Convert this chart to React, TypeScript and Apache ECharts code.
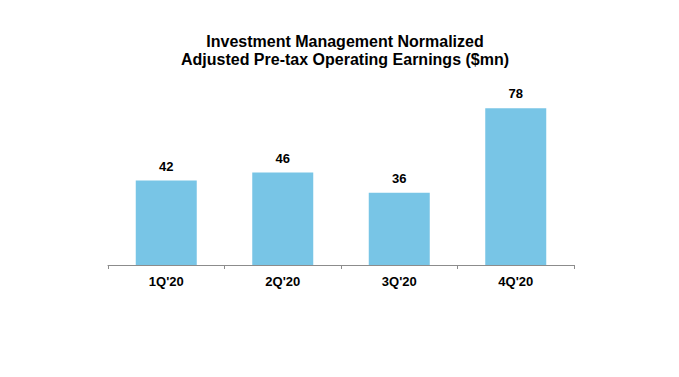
import React, { useEffect, useRef } from "react";
import * as echarts from "echarts";

const categories = ["1Q'20", "2Q'20", "3Q'20", "4Q'20"];
const values = [42, 46, 36, 78];
const titleLines = ["Investment Management Normalized", "Adjusted Pre-tax Operating Earnings ($mn)"];

export default function App() {
  const ref = useRef<HTMLDivElement>(null);
  useEffect(() => {
    if (!ref.current) return;
    const chart = echarts.init(ref.current, undefined, { renderer: "svg" });
    chart.setOption({
      animation: false,
      backgroundColor: "#ffffff",
      title: {
        text: titleLines.join("\n"),
        left: 340,
        textAlign: "center",
        top: 27,
        textStyle: {
          fontFamily: "Liberation Sans, Arial, sans-serif",
          fontWeight: "bold",
          fontSize: 16,
          lineHeight: 18,
          color: "#000",
        },
      },
      grid: { left: 108, right: 105, top: 64, bottom: 112 },
      xAxis: {
        type: "category",
        data: categories,
        axisLine: { lineStyle: { color: "#8c8c8c", width: 1 } },
        axisTick: { show: true, length: 4, lineStyle: { color: "#8c8c8c" } },
        axisLabel: {
          margin: 10,
          fontFamily: "Liberation Sans, Arial, sans-serif",
          fontWeight: "bold",
          fontSize: 13,
          color: "#000",
        },
      },
      yAxis: {
        type: "value",
        min: 0,
        max: 100,
        show: false,
        splitLine: { show: false },
      },
      series: [
        {
          type: "bar",
          data: values,
          barWidth: 61,
          itemStyle: { color: "#78c5e6" },
          label: {
            show: true,
            position: "top",
            distance: 8,
            fontFamily: "Liberation Sans, Arial, sans-serif",
            fontWeight: "bold",
            fontSize: 13,
            color: "#000",
          },
        },
      ],
    });
    return () => chart.dispose();
  }, []);
  return (
    <div
      ref={ref}
      style={{ position: "fixed", left: 0, top: 0, width: 679, height: 377 }}
    />
  );
}
